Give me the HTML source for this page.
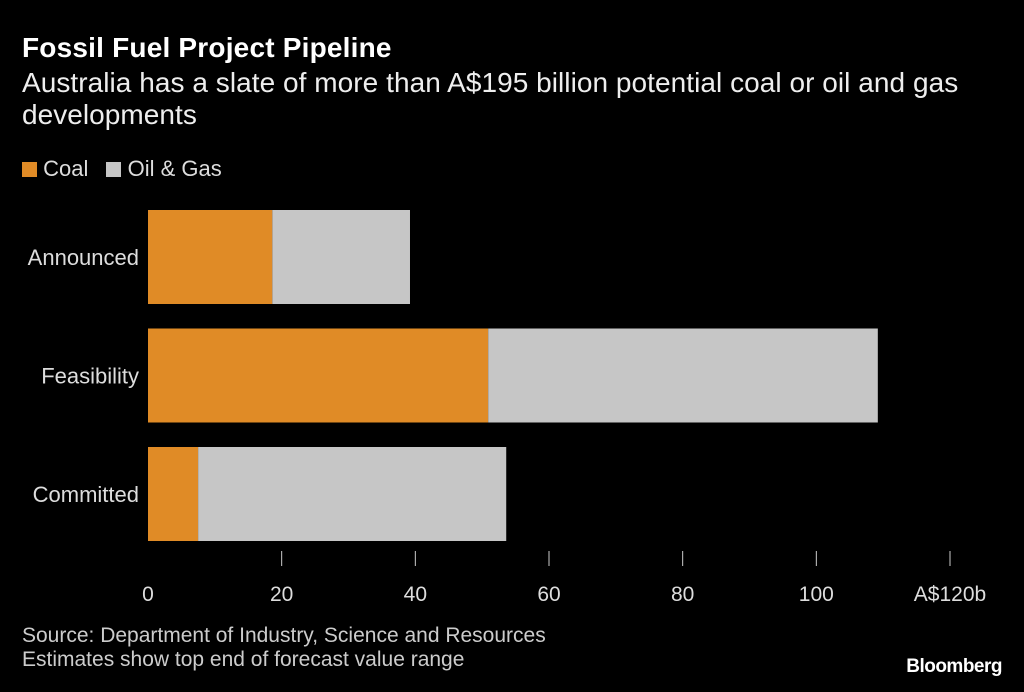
<!DOCTYPE html>
<html><head><meta charset="utf-8">
<style>
body{margin:0;background:#000;width:1024px;height:692px;overflow:hidden;font-family:"Liberation Sans",sans-serif;color:#ddd}
.t{position:absolute;left:22px;white-space:nowrap}
</style></head>
<body>
<div class="t" style="top:32px;font-size:28px;font-weight:bold;color:#fff;letter-spacing:0.2px">Fossil Fuel Project Pipeline</div>
<div class="t" style="top:67px;font-size:28px;line-height:32px;color:#eee;letter-spacing:0.05px">Australia has a slate of more than A$195 billion potential coal or oil and gas<br>developments</div>
<div class="t" style="top:156px;font-size:22px;color:#ddd">
<span><span style="display:inline-block;width:15px;height:15px;background:#e08b26;vertical-align:-1px"></span> Coal</span>
<span style="margin-left:12px"><span style="display:inline-block;width:15px;height:15px;background:#c6c6c6;vertical-align:-1px"></span> Oil &amp; Gas</span>
</div>
<svg id="chart" width="1024" height="692" style="position:absolute;left:0;top:0"></svg>
<div class="t" style="top:624px;font-size:21px;line-height:24px;color:#ccc">Source: Department of Industry, Science and Resources<br>Estimates show top end of forecast value range</div>
<div style="position:absolute;right:22px;top:656px;font-size:19px;font-weight:bold;color:#fff;letter-spacing:-0.5px">Bloomberg</div>
<script>
const categories=["Announced","Feasibility","Committed"];
const coal=[18.6,50.9,7.5];
const oilGas=[20.6,58.3,46.1];
const ticks=[0,20,40,60,80,100,120];
const tickLabels=["0","20","40","60","80","100","A$120b"];
const svg=document.getElementById('chart');
const NS="http://www.w3.org/2000/svg";
const x=v=>148+v*(950-148)/120;
const yTop=i=>210+i*118.5;
const bh=94;
function mk(t,a){const e=document.createElementNS(NS,t);for(const k in a)e.setAttribute(k,a[k]);svg.appendChild(e);return e;}
categories.forEach((c,i)=>{
 const r1=mk('rect',{x:x(0),y:yTop(i),width:x(coal[i])-x(0),height:bh,fill:'#e08b26'});
 
 
 const r2=mk('rect',{x:x(coal[i]),y:yTop(i),width:x(coal[i]+oilGas[i])-x(coal[i]),height:bh,fill:'#c6c6c6'});
 
 
 const t=mk('text',{x:139,y:yTop(i)+bh/2+8,'text-anchor':'end','font-size':22,fill:'#ddd','font-family':'Liberation Sans, sans-serif'});
 t.textContent=c;
 
 
});
ticks.forEach((v,i)=>{
 if(i>0){const l=mk('line',{x1:x(v),x2:x(v),y1:551,y2:566,stroke:'#ccc','stroke-width':1});
 
 }
 const t=mk('text',{x:x(v),y:601,'text-anchor':'middle','font-size':21,fill:'#ddd','font-family':'Liberation Sans, sans-serif'});
 t.textContent=tickLabels[i];
 
 
});
</script>
</body></html>
